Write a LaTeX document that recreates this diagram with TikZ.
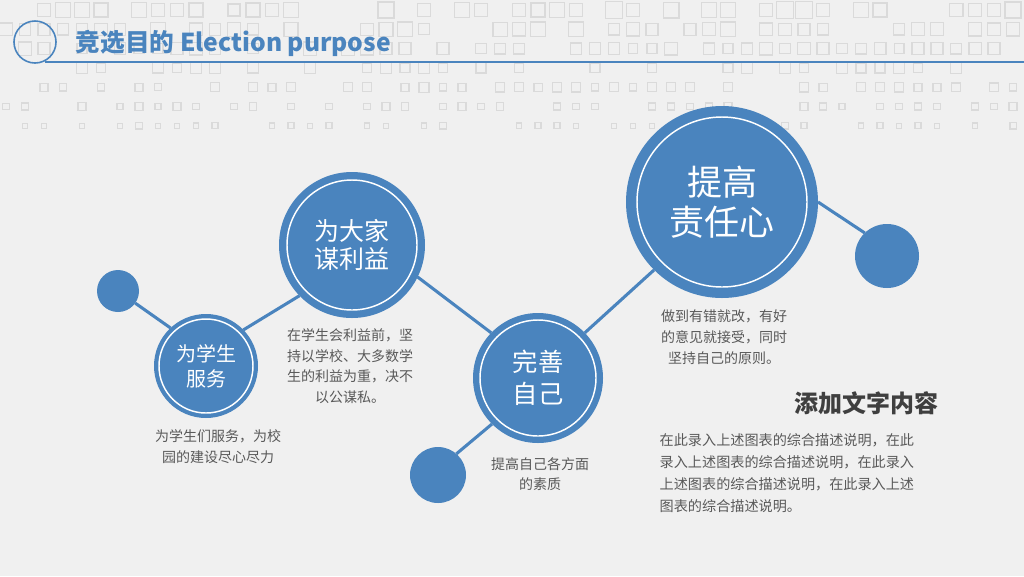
\documentclass[tikz,border=0pt]{standalone}
\usepackage{fontspec}
\setmainfont{Noto Sans CJK SC}
\usepackage{xcolor}
\usepackage{tikz}
\definecolor{EPBlue}{HTML}{4A84BE}
\definecolor{EPText}{HTML}{595959}
\definecolor{EPHead}{HTML}{3F3F3F}
\definecolor{EPBack}{HTML}{F0F0F0}
\definecolor{EPGrid}{HTML}{DADADA}

\begin{document}
\begin{tikzpicture}[x=0.75pt,y=-0.75pt,
  bigdot/.style={circle,fill=EPBlue,inner sep=0pt,outer sep=0pt},
  link/.style={EPBlue,line width=2.3pt},
  ring/.style={white,line width=1.1pt},
  incap/.style={text=white,align=center},
  desc/.style={EPText,align=center,font=\fontsize{10.5}{15.5}\selectfont}]
\path[use as bounding box] (0,0) rectangle (1024,576);
\fill[EPBack] (0,0) rectangle (1024,576);
% faint squares behind the header
\pgfmathsetseed{42}
\foreach \row in {0,...,6}{
  \foreach \col in {0,...,53}{
    \pgfmathsetmacro{\keep}{rnd}
    \pgfmathsetmacro{\side}{(15-1.5*\row)*(0.8+0.3*rnd)}
    \ifdim\keep pt>0.3pt
      \draw[EPGrid,line width=0.9pt] ({6+19*\col-\side/2},{10+19.3*\row-\side/2}) rectangle ++(\side,\side);
    \fi
  }
}
% header
\draw[EPBlue,line width=1.2pt] (35,42) circle (21);
\draw[EPBlue,line width=1.5pt] (45,62) -- (1024,62);
\node[anchor=base west,text=EPBlue,font=\fontsize{18.5}{23}\selectfont\bfseries] (title) at (71,51) {竞选目的 Election purpose};
% circles
\node[bigdot,minimum size=31.5pt] (s1) at (118,291) {};
\node[bigdot,minimum size=78pt,incap,font=\fontsize{15}{18.75}\selectfont] (c2) at (206,366) {为学生\\服务};
\node[bigdot,minimum size=109.5pt,incap,font=\fontsize{18.75}{21.4}\selectfont] (c3) at (352,245) {为大家\\谋利益};
\node[bigdot,minimum size=97.5pt,incap,font=\fontsize{19}{24}\selectfont] (c4) at (538,378) {完善\\自己};
\node[bigdot,minimum size=42pt] (s2) at (438,475) {};
\node[bigdot,minimum size=144pt,incap,font=\fontsize{26.25}{30}\selectfont] (c6) at (722,202) {提高\\责任心};
\node[bigdot,minimum size=48pt] (s3) at (887,256) {};
\draw[ring] (c2) circle (47);
\draw[ring] (c3) circle (65);
\draw[ring] (c4) circle (58);
\draw[ring] (c6) circle (85);
% connectors
\draw[link] (s1) -- (c2.133);
\draw[link] (c2.44) -- (c3.224);
\draw[link] (c3.-26) -- (c4.136);
\draw[link] (c4.225) -- (s2.49);
\draw[link] (c4.44) -- (c6.225);
\draw[link] (c6.0) -- (s3.134);
% descriptions
\node[desc] (d2) at (218,446.5) {为学生们服务，为校\\园的建设尽心尽力};
\node[desc] (d3) at (350,366) {在学生会利益前，坚\\持以学校、大多数学\\生的利益为重，决不\\以公谋私。};
\node[desc] (d4) at (540,474) {提高自己各方面\\的素质};
\node[desc] (d6) at (724,337) {做到有错就改，有好\\的意见就接受，同时\\坚持自己的原则。};
\node[anchor=east,text=EPHead,font=\fontsize{18}{22}\selectfont\bfseries] (head) at (943,403) {添加文字内容};
\node[anchor=west,align=left,text=EPText,font=\fontsize{10.6}{16.5}\selectfont] (para) at (655,473) {在此录入上述图表的综合描述说明，在此\\录入上述图表的综合描述说明，在此录入\\上述图表的综合描述说明，在此录入上述\\图表的综合描述说明。};
\end{tikzpicture}
\end{document}
